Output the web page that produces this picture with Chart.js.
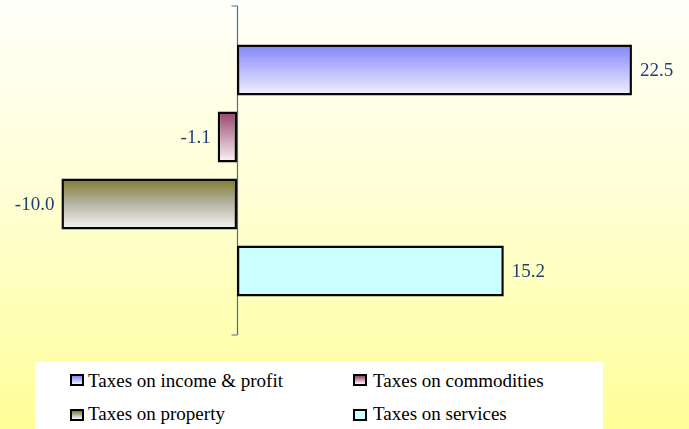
<!DOCTYPE html>
<html><head><meta charset="utf-8">
<script src="https://cdn.jsdelivr.net/npm/chart.js@4/dist/chart.umd.min.js"></script>
<style>
html,body{margin:0;padding:0;}
body{width:689px;height:429px;overflow:hidden;position:relative;background:linear-gradient(to bottom,#FFFFFA 0%,#FFFFD6 45%,#FFFF99 100%);}
#c{position:absolute;left:0;top:0;}
#legend{position:absolute;left:35px;top:362px;width:568px;height:67px;background:#fff;font-family:'Liberation Serif','Times New Roman',serif;font-size:19px;color:#000;}
.item{position:absolute;white-space:nowrap;line-height:19px;}
.sw{position:absolute;width:14px;height:12px;box-sizing:border-box;border:2px solid #000;}
</style>
</head><body>
<canvas id="c" width="689" height="429"></canvas>
<div id="legend"></div>
<script>
// ---- data ----
const seriesNames = ["Taxes on income & profit","Taxes on commodities","Taxes on property","Taxes on services"];
const seriesValues = [22.5, -1.1, -10.0, 15.2];
const categoryLabels = [""];
// ---- styles ----
const gradStops = [
  [[0,"#8284FA"],[1,"#F2F2FF"]],
  [[0,"#96426A"],[1,"#FBF7F9"]],
  [[0,"#7E7A2C"],[0.5,"#B7B6A4"],[1,"#F6F6F6"]],
  [[0,"#CCFFFF"],[1,"#CCFFFF"]]
];
const labelColor = "#1F3F73";
const axisColor = "#4A6F96";

function cssGrad(stops){return "linear-gradient(to bottom,"+stops.map(s=>s[1]+" "+(s[0]*100)+"%").join(",")+")";}

const gradientPlugin = {
  id:'grad',
  beforeDatasetsDraw(chart){
    const ctx = chart.ctx;
    chart.data.datasets.forEach((ds,i)=>{
      const meta = chart.getDatasetMeta(i);
      meta.data.forEach(el=>{
        const top = el.y - el.height/2, bot = el.y + el.height/2;
        const g = ctx.createLinearGradient(0, top, 0, bot);
        gradStops[i].forEach(s=>g.addColorStop(s[0], s[1]));
        el.options.backgroundColor = g;
      });
    });
    // axis line at zero
    const x0 = Math.round(chart.scales.x.getPixelForValue(0)) + 0.5;
    const a = chart.chartArea;
    ctx.save();
    ctx.strokeStyle = axisColor; ctx.lineWidth = 1.2;
    ctx.beginPath();
    ctx.moveTo(x0, a.top); ctx.lineTo(x0, a.bottom);
    ctx.moveTo(x0-6, a.top); ctx.lineTo(x0, a.top);
    ctx.moveTo(x0-6, a.bottom); ctx.lineTo(x0, a.bottom);
    ctx.stroke();
    ctx.restore();
  },
  afterDatasetsDraw(chart){
    const ctx = chart.ctx;
    ctx.save();
    ctx.font = "19px 'Liberation Serif','Times New Roman',serif";
    ctx.fillStyle = labelColor;
    ctx.textBaseline = "middle";
    chart.data.datasets.forEach((ds,i)=>{
      const meta = chart.getDatasetMeta(i);
      meta.data.forEach((el,j)=>{
        const v = ds.data[j];
        const txt = v.toFixed(1);
        if (v >= 0){ ctx.textAlign = "left"; ctx.fillText(txt, el.x + 8, el.y + 1); }
        else { ctx.textAlign = "right"; ctx.fillText(txt, el.x - 7, el.y + 1); }
      });
    });
    ctx.restore();
  }
};

const chart = new Chart(document.getElementById('c'), {
  type:'bar',
  data:{
    labels: categoryLabels,
    datasets: seriesNames.map((n,i)=>({
      label:n, data:[seriesValues[i]],
      backgroundColor: gradStops[i][0][1],
      borderColor:'#060606', borderWidth:2.5, borderSkipped:false,
      categoryPercentage:0.8146, barPercentage:0.76
    }))
  },
  options:{
    indexAxis:'y', responsive:false, animation:false,
    layout:{padding:{top:6,bottom:94,left:0,right:0}},
    scales:{
      x:{type:'linear',display:false,min:-13.5,max:25.75},
      y:{display:false}
    },
    plugins:{legend:{display:false},tooltip:{enabled:false}}
  },
  plugins:[gradientPlugin]
});

// HTML legend built from the chart's datasets
const legend = document.getElementById('legend');
const pos = [[35,12,53,9],[318,12,338,9],[35,47,53,42],[318,47,338,42]];
chart.data.datasets.forEach((ds,i)=>{
  const p = pos[i];
  const sw = document.createElement('div');
  sw.className='sw'; sw.style.left=p[0]+'px'; sw.style.top=p[1]+'px';
  sw.style.background = cssGrad(gradStops[i]);
  legend.appendChild(sw);
  const t = document.createElement('div');
  t.className='item'; t.style.left=p[2]+'px'; t.style.top=p[3]+'px';
  t.textContent = ds.label;
  legend.appendChild(t);
});
</script>
</body></html>
